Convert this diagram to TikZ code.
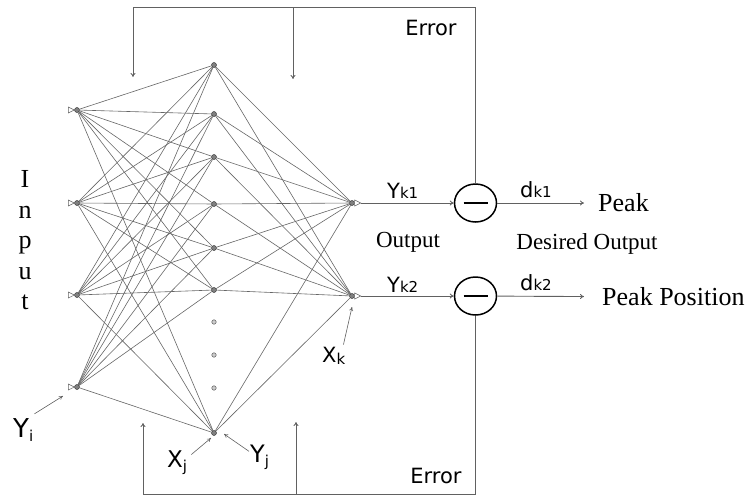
\documentclass[tikz,border=0pt]{standalone}
\usepackage{fontspec}
\setmainfont{Liberation Serif}
\newfontfamily\labfont{DejaVu Sans}
\usepackage{tikz}
\usetikzlibrary{arrows.meta,shapes.geometric}

\newcommand{\lowsub}[2][0pt]{\raisebox{-#1}{\fontsize{15}{15}\selectfont #2}}

\begin{document}
\begin{tikzpicture}[x=1pt, y=-1pt,
	neuron/.style={circle, draw=black!85, fill=black!50, inner sep=0pt, minimum size=5pt},
	gapdot/.style={circle, draw=black!75, fill=black!20, inner sep=0pt, minimum size=4.5pt},
	link/.style={draw=black!60, line width=0.6pt},
	pin/.style={draw=black!60, line width=0.5pt, fill=white},
	feed/.style={draw=black!62, line width=0.9pt, -{To[length=4pt,width=5pt]}},
	ptr/.style={draw=black!62, line width=0.6pt, -{To[length=4pt,width=4pt]}},
	minus/.style={ellipse, draw, line width=1.5pt, minimum width=42pt, minimum height=38pt, inner sep=0pt},
	lab/.style={inner sep=0pt, font=\labfont\fontsize{21}{21}\selectfont},
	txt/.style={inner sep=0pt, font=\fontsize{23}{23}\selectfont}]

	\useasboundingbox (0,0) rectangle (747,498);

	\foreach \y [count=\n] in {110,203,295,387}
		\node[neuron] (i\n) at (77,\y) {};
	\foreach \y [count=\n] in {65,114,157,204,248,290,433}
		\node[neuron] (h\n) at (214,\y) {};
	\foreach \y [count=\n] in {322,355,388}
		\node[gapdot] (g\n) at (214,\y) {};
	\node[neuron] (o1) at (352,203) {};
	\node[neuron] (o2) at (352,296) {};

	\foreach \i in {1,...,4}
		\foreach \h in {1,...,7}
			\draw[link] (i\i) -- (h\h);
	\foreach \h in {1,...,7}
		\foreach \o in {1,2}
			\draw[link] (h\h) -- (o\o);

	\foreach \n in {1,...,4}
		\draw[pin] (i\n.west) -- ++(-6,-3) -- ++(0,6) -- cycle;
	\foreach \n in {1,2}
		\draw[pin] ([xshift=6pt]o\n.east) coordinate (t\n) -- ++(-6,-3) -- ++(0,6) -- cycle;

	\node[minus] (m1) at (475.5,203) {\rule{24pt}{2.5pt}};
	\node[minus] (m2) at (475.5,296) {\rule{24pt}{2.5pt}};

	\node[anchor=west, inner xsep=14pt, inner ysep=0pt, font=\fontsize{26}{26}\selectfont] (pk1) at (584,203) {Peak};
	\node[anchor=west, inner xsep=18pt, inner ysep=0pt, font=\fontsize{26}{26}\selectfont] (pk2) at (584,297) {Peak Position};

	\draw[feed] (t1) -- (m1);
	\draw[feed] (t2) -- (m2);
	\draw[feed] (m1) -- (pk1);
	\draw[feed] (m2) -- (pk2);

	\coordinate (e1) at (133,7);
	\coordinate (e1a) at (133,77);
	\coordinate (e2) at (293,7);
	\coordinate (e2a) at (293,79);
	\coordinate (e3) at (143,494);
	\coordinate (e3a) at (143,423);
	\coordinate (e4) at (296,494);
	\coordinate (e4a) at (296,422);
	\draw[feed] (m1.north) |- (e1) -- (e1a);
	\draw[feed] (e2) -- (e2a);
	\draw[feed] (m2.south) |- (e3) -- (e3a);
	\draw[feed] (e4) -- (e4a);

	\node[lab] (err1) at (431,28) {Error};
	\node[lab] (err2) at (436,476) {Error};
	\node[lab, anchor=base west] (yk1) at (387,198) {Y\lowsub{k1}};
	\node[lab, anchor=base west] (yk2) at (387,292) {Y\lowsub{k2}};
	\node[lab, anchor=base west] (dk1) at (520,197) {d\lowsub{k1}};
	\node[lab, anchor=base west] (dk2) at (520,290) {d\lowsub{k2}};
	\node[txt, anchor=base] (outl) at (408,247) {Output};
	\node[txt, anchor=base] (desl) at (587,249) {Desired Output};
	\node[inner sep=0pt, align=center, font=\fontsize{26}{30.5}\selectfont] (inp) at (25,240.5) {I\\n\\p\\u\\t};

	\node[lab, font=\labfont\fontsize{26}{26}\selectfont, anchor=base west] (yi) at (13,437) {Y\lowsub[4pt]{i}};
	\node[lab, font=\labfont\fontsize{23}{23}\selectfont, anchor=base west] (xj) at (167,467) {X\lowsub[4pt]{j}};
	\node[lab, font=\labfont\fontsize{24}{24}\selectfont, anchor=base west] (yj) at (250,462) {Y\lowsub[4pt]{j}};
	\node[lab, anchor=base west] (xk) at (322,362) {X\lowsub[2pt]{k}};

	\draw[ptr] ([shift={(1,-4)}]yi.north east) -- ([shift={(-14,9)}]i4.center);
	\draw[ptr] ([shift={(4,4.5)}]xj.north east) -- ([shift={(-3,5)}]h7.center);
	\draw[ptr] ([shift={(-1,7)}]yj.north west) -- ([shift={(10,1)}]h7.center);
	\draw[ptr] ([shift={(-2,-2)}]xk.north east) -- ([shift={(0,11)}]o2.center);
\end{tikzpicture}
\end{document}
